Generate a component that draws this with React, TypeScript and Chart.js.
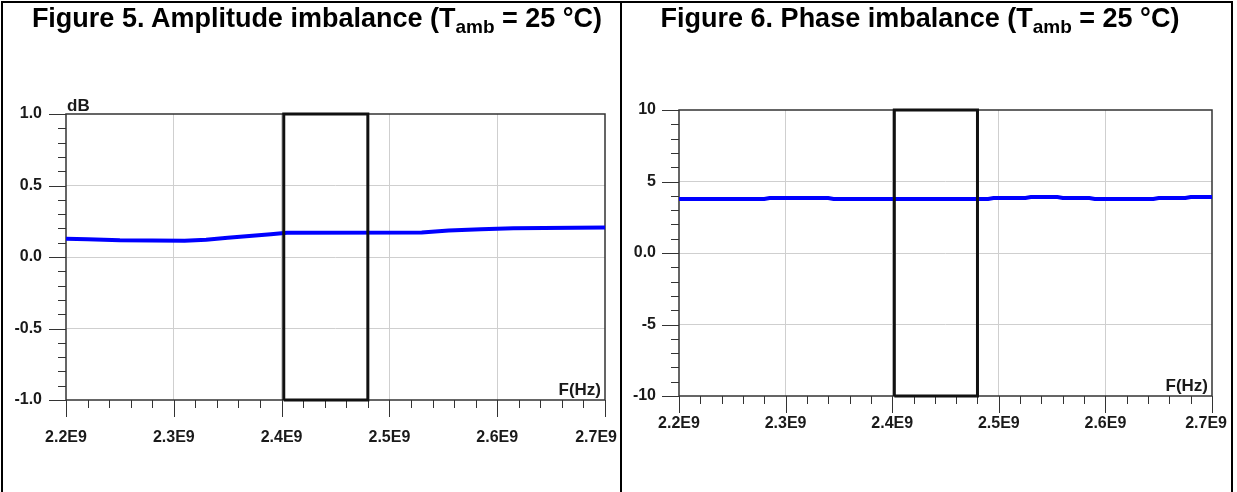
import React, { useEffect, useRef } from 'react';
import { Chart, registerables } from 'chart.js';

Chart.register(...registerables);

const FONT = '"Liberation Sans", Arial, Helvetica, sans-serif';

// ---- shared frequency axis ----
const freqMin = 2.2e9;
const freqMax = 2.7e9;
const freqMinorStep = 0.02e9;
const freqMajors = [2.2e9, 2.3e9, 2.4e9, 2.5e9, 2.6e9, 2.7e9];
const freqLabels = ['2.2E9', '2.3E9', '2.4E9', '2.5E9', '2.6E9', '2.7E9'];

// ISM band marker (start, end)
const bandEdges = [2.402e9, 2.48e9];

// ---- Figure 5: amplitude imbalance ----
const ampTitle = 'Figure 5. Amplitude imbalance (T';
const ampFreq = [2.2e9, 2.22e9, 2.25e9, 2.31e9, 2.33e9, 2.35e9, 2.37e9, 2.39e9, 2.405e9, 2.53e9, 2.555e9, 2.585e9, 2.615e9, 2.7e9];
const ampDb = [0.128, 0.124, 0.117, 0.113, 0.121, 0.134, 0.147, 0.159, 0.169, 0.171, 0.186, 0.194, 0.201, 0.206];
const ampRange = [-1, 1];
const ampMinorStep = 0.1;
const ampMajors = [-1, -0.5, 0, 0.5, 1];
const ampLabels = ['-1.0', '-0.5', '0.0', '0.5', '1.0'];

// ---- Figure 6: phase imbalance ----
const phaseTitle = 'Figure 6. Phase imbalance (T';
const phaseFreq = [2.2e9, 2.28e9, 2.285e9, 2.34e9, 2.345e9, 2.49e9, 2.495e9, 2.525e9, 2.53e9, 2.555e9, 2.56e9, 2.585e9, 2.59e9, 2.645e9, 2.65e9, 2.675e9, 2.68e9, 2.7e9];
const phaseDeg = [3.77, 3.77, 3.84, 3.84, 3.77, 3.77, 3.84, 3.84, 3.91, 3.91, 3.84, 3.84, 3.77, 3.77, 3.84, 3.84, 3.91, 3.91];
const phaseRange = [-10, 10];
const phaseMinorStep = 1;
const phaseMajors = [-10, -5, 0, 5, 10];
const phaseLabels = ['-10', '-5', '0.0', '5', '10'];

function nearIndex(v: number, arr: number[]): number {
  return arr.findIndex((m) => Math.abs(m - v) < 1e-6 * Math.max(1, Math.abs(m)));
}

const axisDecor = {
  id: 'axisDecor',
  beforeDatasetsDraw(chart: any, _args: any, opts: any) {
    const { ctx, chartArea: a } = chart;
    const xs = chart.scales.x;
    const ys = chart.scales.y;
    ctx.save();
    ctx.strokeStyle = '#333';
    ctx.lineWidth = 1;
    for (const t of ys.ticks) {
      const py = Math.round(ys.getPixelForValue(t.value)) + 0.5;
      const len = nearIndex(t.value, opts.yMajors) >= 0 ? 17 : 8;
      ctx.beginPath();
      ctx.moveTo(a.left - len, py);
      ctx.lineTo(a.left, py);
      ctx.stroke();
    }
    for (const t of xs.ticks) {
      const px = Math.round(xs.getPixelForValue(t.value)) + 0.5;
      const len = nearIndex(t.value, freqMajors) >= 0 ? 17 : 8;
      ctx.beginPath();
      ctx.moveTo(px, a.bottom);
      ctx.lineTo(px, a.bottom + len);
      ctx.stroke();
    }
    ctx.lineWidth = 1.5;
    ctx.strokeRect(a.left, a.top, a.right - a.left, a.bottom - a.top);

    ctx.fillStyle = '#1a1a1a';
    ctx.font = `bold 16px ${FONT}`;
    ctx.textBaseline = 'middle';
    ctx.textAlign = 'left';
    freqMajors.forEach((f, i) => {
      const px = xs.getPixelForValue(f);
      const w = ctx.measureText(freqLabels[i]).width;
      let left = px - w / 2;
      left = Math.min(left, chart.width - opts.rightMargin - w);
      ctx.fillText(freqLabels[i], left, a.bottom + opts.xLabelOffset);
    });
    ctx.textBaseline = 'alphabetic';
    ctx.textAlign = 'right';
    ctx.font = `bold 17px ${FONT}`;
    ctx.fillText('F(Hz)', a.right - 4, a.bottom - 5);
    if (opts.unit) {
      ctx.textAlign = 'left';
      ctx.fillText(opts.unit, a.left + 1, a.top - 3);
    }
    ctx.restore();
  },
};

interface PanelProps {
  left: number;
  width: number;
  title: string;
  titleCenter: number;
  freq: number[];
  values: number[];
  range: number[];
  minorStep: number;
  majors: number[];
  labels: string[];
  unit?: string;
  padTop: number;
  padRight: number;
  yWidth: number;
  xHeight: number;
  yLabelPad: number;
  xLabelOffset: number;
  rightMargin: number;
}

function Panel(p: PanelProps) {
  const ref = useRef<HTMLCanvasElement>(null);
  useEffect(() => {
    if (!ref.current) return;
    const gridColor = (c: any, arr: number[], lo: number, hi: number) => {
      const v = c.tick ? c.tick.value : NaN;
      if (nearIndex(v, arr) >= 0 && nearIndex(v, [lo, hi]) < 0) return '#cfcfcf';
      return 'rgba(0,0,0,0)';
    };
    const rect = [
      { x: bandEdges[0], y: p.range[0] },
      { x: bandEdges[0], y: p.range[1] },
      { x: bandEdges[1], y: p.range[1] },
      { x: bandEdges[1], y: p.range[0] },
      { x: bandEdges[0], y: p.range[0] },
    ];
    const chart = new Chart(ref.current, {
      type: 'scatter',
      data: {
        datasets: [
          {
            label: 'band',
            data: rect,
            showLine: true,
            borderColor: '#111',
            borderWidth: 3,
            pointRadius: 0,
            fill: false,
            order: 0,
            clip: false,
            tension: 0,
            borderJoinStyle: 'miter',
          } as any,
          {
            label: 'curve',
            data: p.freq.map((f, i) => ({ x: f, y: p.values[i] })),
            showLine: true,
            borderColor: '#0000ff',
            borderWidth: 4,
            pointRadius: 0,
            fill: false,
            order: 1,
            clip: false,
            tension: 0,
          } as any,
        ],
      },
      options: {
        animation: false,
        responsive: false,
        events: [],
        layout: { padding: { top: p.padTop, right: p.padRight, left: 0, bottom: 0 } },
        plugins: {
          legend: { display: false },
          tooltip: { enabled: false },
          axisDecor: { yMajors: p.majors, xLabelOffset: p.xLabelOffset, unit: p.unit, rightMargin: p.rightMargin },
        } as any,
        scales: {
          x: {
            type: 'linear',
            min: freqMin,
            max: freqMax,
            afterFit: (s: any) => {
              s.height = p.xHeight;
              s.paddingLeft = 0;
              s.paddingRight = 0;
            },
            ticks: { display: false, stepSize: freqMinorStep, maxTicksLimit: 100, autoSkip: false },
            grid: {
              drawTicks: false,
              lineWidth: 1,
              color: (c: any) => gridColor(c, freqMajors, freqMin, freqMax),
            },
            border: { display: false },
          },
          y: {
            type: 'linear',
            min: p.range[0],
            max: p.range[1],
            afterFit: (s: any) => {
              s.width = p.yWidth;
              s.paddingTop = 0;
              s.paddingBottom = 0;
            },
            ticks: {
              stepSize: p.minorStep,
              maxTicksLimit: 100,
              autoSkip: false,
              padding: p.yLabelPad,
              color: '#1a1a1a',
              font: { family: FONT, size: 16, weight: 'bold' },
              callback: (v: any) => {
                const i = nearIndex(Number(v), p.majors);
                return i >= 0 ? p.labels[i] : '';
              },
            },
            grid: {
              drawTicks: false,
              lineWidth: 1,
              color: (c: any) => gridColor(c, p.majors, p.range[0], p.range[1]),
            },
            border: { display: false },
          },
        },
      } as any,
      plugins: [axisDecor as any],
    });
    return () => chart.destroy();
  }, []);

  return (
    <>
      <canvas
        ref={ref}
        width={p.width}
        height={492}
        style={{ position: 'absolute', left: p.left, top: 0, width: p.width, height: 492 }}
      />
      <div
        style={{
          position: 'absolute',
          left: p.titleCenter - 320,
          width: 640,
          top: 3,
          textAlign: 'center',
          font: `bold 27px ${FONT}`,
          lineHeight: '30px',
          whiteSpace: 'nowrap',
          color: '#000',
        }}
      >
        {p.title}
        <span style={{ fontSize: 19, position: 'relative', top: 6 }}>amb</span>
        {' = 25 °C)'}
      </div>
    </>
  );
}

export default function App() {
  return (
    <div
      style={{
        position: 'absolute',
        left: 0,
        top: 0,
        width: 1237,
        height: 492,
        overflow: 'hidden',
        background: '#fff',
      }}
    >
      <div
        style={{
          position: 'absolute',
          left: 1,
          top: 1,
          width: 1232,
          height: 540,
          borderTop: '2px solid #000',
          borderLeft: '2px solid #000',
          borderRight: '2px solid #000',
          boxSizing: 'border-box',
        }}
      />
      <div style={{ position: 'absolute', left: 620, top: 1, width: 2, height: 491, background: '#000' }} />
      <Panel
        left={0}
        width={620}
        title={ampTitle}
        titleCenter={317}
        freq={ampFreq}
        values={ampDb}
        range={ampRange}
        minorStep={ampMinorStep}
        majors={ampMajors}
        labels={ampLabels}
        unit="dB"
        padTop={114}
        padRight={15}
        yWidth={66}
        xHeight={92}
        yLabelPad={24}
        xLabelOffset={38}
        rightMargin={3}
      />
      <Panel
        left={622}
        width={614}
        title={phaseTitle}
        titleCenter={920}
        freq={phaseFreq}
        values={phaseDeg}
        range={phaseRange}
        minorStep={phaseMinorStep}
        majors={phaseMajors}
        labels={phaseLabels}
        padTop={110}
        padRight={24}
        yWidth={57}
        xHeight={96}
        yLabelPad={23}
        xLabelOffset={28}
        rightMargin={9}
      />
    </div>
  );
}
